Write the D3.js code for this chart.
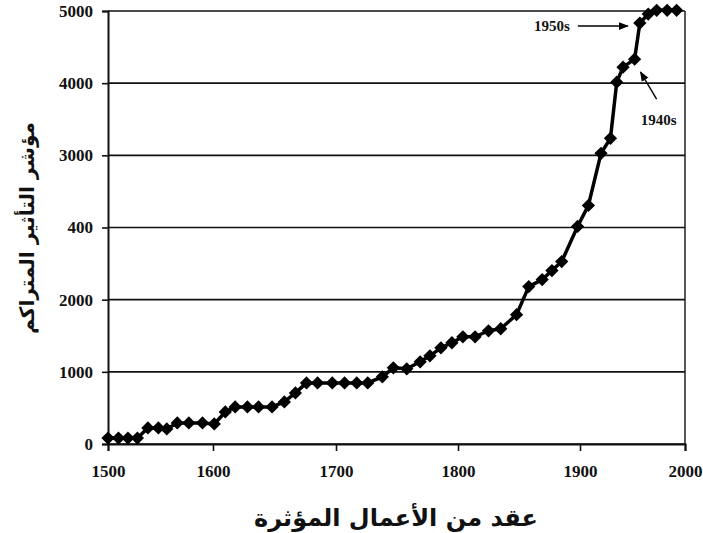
<!DOCTYPE html>
<html>
<head>
<meta charset="utf-8">
<script src="https://cdn.jsdelivr.net/npm/d3@7"></script>
<style>
  html, body { margin: 0; padding: 0; background: #fff; }
  svg { display: block; }
</style>
</head>
<body>
<svg id="chart" width="703" height="533"></svg>
<script>
// ---- data ----
const years = [1500,1510,1519,1528,1538,1548,1556,1566,1577,1590,1601,1610,1618,1628,1637,1648,1658,1667,1676,1685,1697,
  1707,1717,1726,1738,1747,1758,1769,1777,1786,1795,
  1804,1814,1825,1835,1848,1858,1869,1877,1885,1898,
  1908,1920,1929,1935,1941,1952,1957,1965,1973,1983,1992];
const values = [83,83,83,83,222,222,208,292,292,292,278,444,514,514,514,514,583,708,847,847,847,
  847,847,847,931,1056,1042,1139,1222,1333,1403,
  1486,1486,1569,1597,1792,2181,2278,2403,2528,3014,
  3306,4028,4236,5014,5222,5333,5833,5958,6010,6010,6010];
const xTicks = [1500,1600,1700,1800,1900,2000];
const xTickLabels = ["1500","1600","1700","1800","1900","2000"];
const yTicks = [0,1000,2000,3000,4000,5000,6000];
const yTickLabels = ["0","1000","2000","400","3000","4000","5000"];
const xTitle = "عقد من الأعمال المؤثرة";
const yTitle = "مؤشر التأثير المتراكم";
const annotations = [
  {label:"1950s", year:1957, value:5833},
  {label:"1940s", year:1952, value:5333}
];

// ---- layout ----
const svg = d3.select("#chart");
const L = 108, R = 685, T = 11, B = 444;
const x = d3.scaleLinear().domain(xTicks).range([108,213,336,458,580,685]);
const y = d3.scaleLinear().domain([0,6000]).range([B,T]);
const serif = "'Liberation Serif','Times New Roman',serif";

// gridlines
svg.append("g").selectAll("line").data(yTicks).join("line")
  .attr("x1", L).attr("x2", R)
  .attr("y1", d => y(d)).attr("y2", d => y(d))
  .attr("stroke", "#111").attr("stroke-width", 1.6);

// right border
svg.append("line").attr("x1", R).attr("x2", R).attr("y1", T).attr("y2", B)
  .attr("stroke", "#111").attr("stroke-width", 1.4);

// y axis
const yAxis = d3.axisLeft(y).tickValues(yTicks)
  .tickFormat((d,i) => yTickLabels[i]).tickSize(6).tickPadding(9);
const gy = svg.append("g").attr("transform", `translate(${L},0)`).call(yAxis);
gy.select(".domain").attr("stroke", "#111").attr("stroke-width", 2);
gy.selectAll(".tick line").attr("stroke", "#111").attr("stroke-width", 1.6);
gy.selectAll("text").attr("font-family", serif).attr("font-size", 17)
  .attr("font-weight", "bold").attr("fill", "#111");

// x axis
const xAxis = d3.axisBottom(x).tickValues(xTicks)
  .tickFormat((d,i) => xTickLabels[i]).tickSize(7).tickPadding(14);
const gx = svg.append("g").attr("transform", `translate(0,${B})`).call(xAxis);
gx.select(".domain").attr("stroke", "#111").attr("stroke-width", 2);
gx.selectAll(".tick line").attr("stroke", "#111").attr("stroke-width", 1.6);
gx.selectAll("text").attr("font-family", serif).attr("font-size", 17)
  .attr("font-weight", "bold").attr("fill", "#111");

// line
const pts = years.map((yr,i) => [yr, values[i]]);
svg.append("path").datum(pts)
  .attr("fill", "none").attr("stroke", "#000").attr("stroke-width", 3.5)
  .attr("stroke-linejoin", "round")
  .attr("d", d3.line().x(d => x(d[0])).y(d => y(d[1])));

// diamond markers
const sym = d3.symbol().type(d3.symbolSquare).size(88);
svg.append("g").selectAll("path").data(pts).join("path")
  .attr("d", sym)
  .attr("transform", d => `translate(${x(d[0])},${y(d[1])}) rotate(45)`)
  .attr("fill", "#000");

// annotations
svg.append("defs").append("marker").attr("id","arr")
  .attr("viewBox","0 0 10 10").attr("refX",9).attr("refY",5)
  .attr("markerWidth",7).attr("markerHeight",7).attr("orient","auto-start-reverse")
  .append("path").attr("d","M0,1 L10,5 L0,9 Z").attr("fill","#000");

const a50 = annotations[0], a40 = annotations[1];
svg.append("text").attr("x", x(a50.year) - 70).attr("y", y(a50.value) + 8)
  .attr("text-anchor","end").attr("font-family", serif).attr("font-size", 15)
  .attr("font-weight","bold").attr("fill","#111").text(a50.label);
svg.append("line").attr("x1", x(a50.year) - 62).attr("y1", y(a50.value) + 3)
  .attr("x2", x(a50.year) - 12).attr("y2", y(a50.value) + 3)
  .attr("stroke","#000").attr("stroke-width",1.4).attr("marker-end","url(#arr)");

svg.append("text").attr("x", x(a40.year) + 24).attr("y", y(a40.value) + 66)
  .attr("text-anchor","middle").attr("font-family", serif).attr("font-size", 15)
  .attr("font-weight","bold").attr("fill","#111").text(a40.label);
svg.append("line").attr("x1", x(a40.year) + 22).attr("y1", y(a40.value) + 40)
  .attr("x2", x(a40.year) + 6).attr("y2", y(a40.value) + 13)
  .attr("stroke","#000").attr("stroke-width",1.4).attr("marker-end","url(#arr)");

// axis titles
svg.append("text").attr("x", 396).attr("y", 526)
  .attr("text-anchor","middle").attr("direction","rtl")
  .attr("font-family","'DejaVu Sans',sans-serif").attr("font-weight","bold")
  .attr("font-size", 24).attr("fill","#111").text(xTitle);
svg.append("text").attr("transform","translate(34,228) rotate(-90)")
  .attr("text-anchor","middle").attr("direction","rtl")
  .attr("font-family","'DejaVu Sans',sans-serif").attr("font-weight","bold")
  .attr("font-size", 20).attr("fill","#111").text(yTitle);
</script>
</body>
</html>
